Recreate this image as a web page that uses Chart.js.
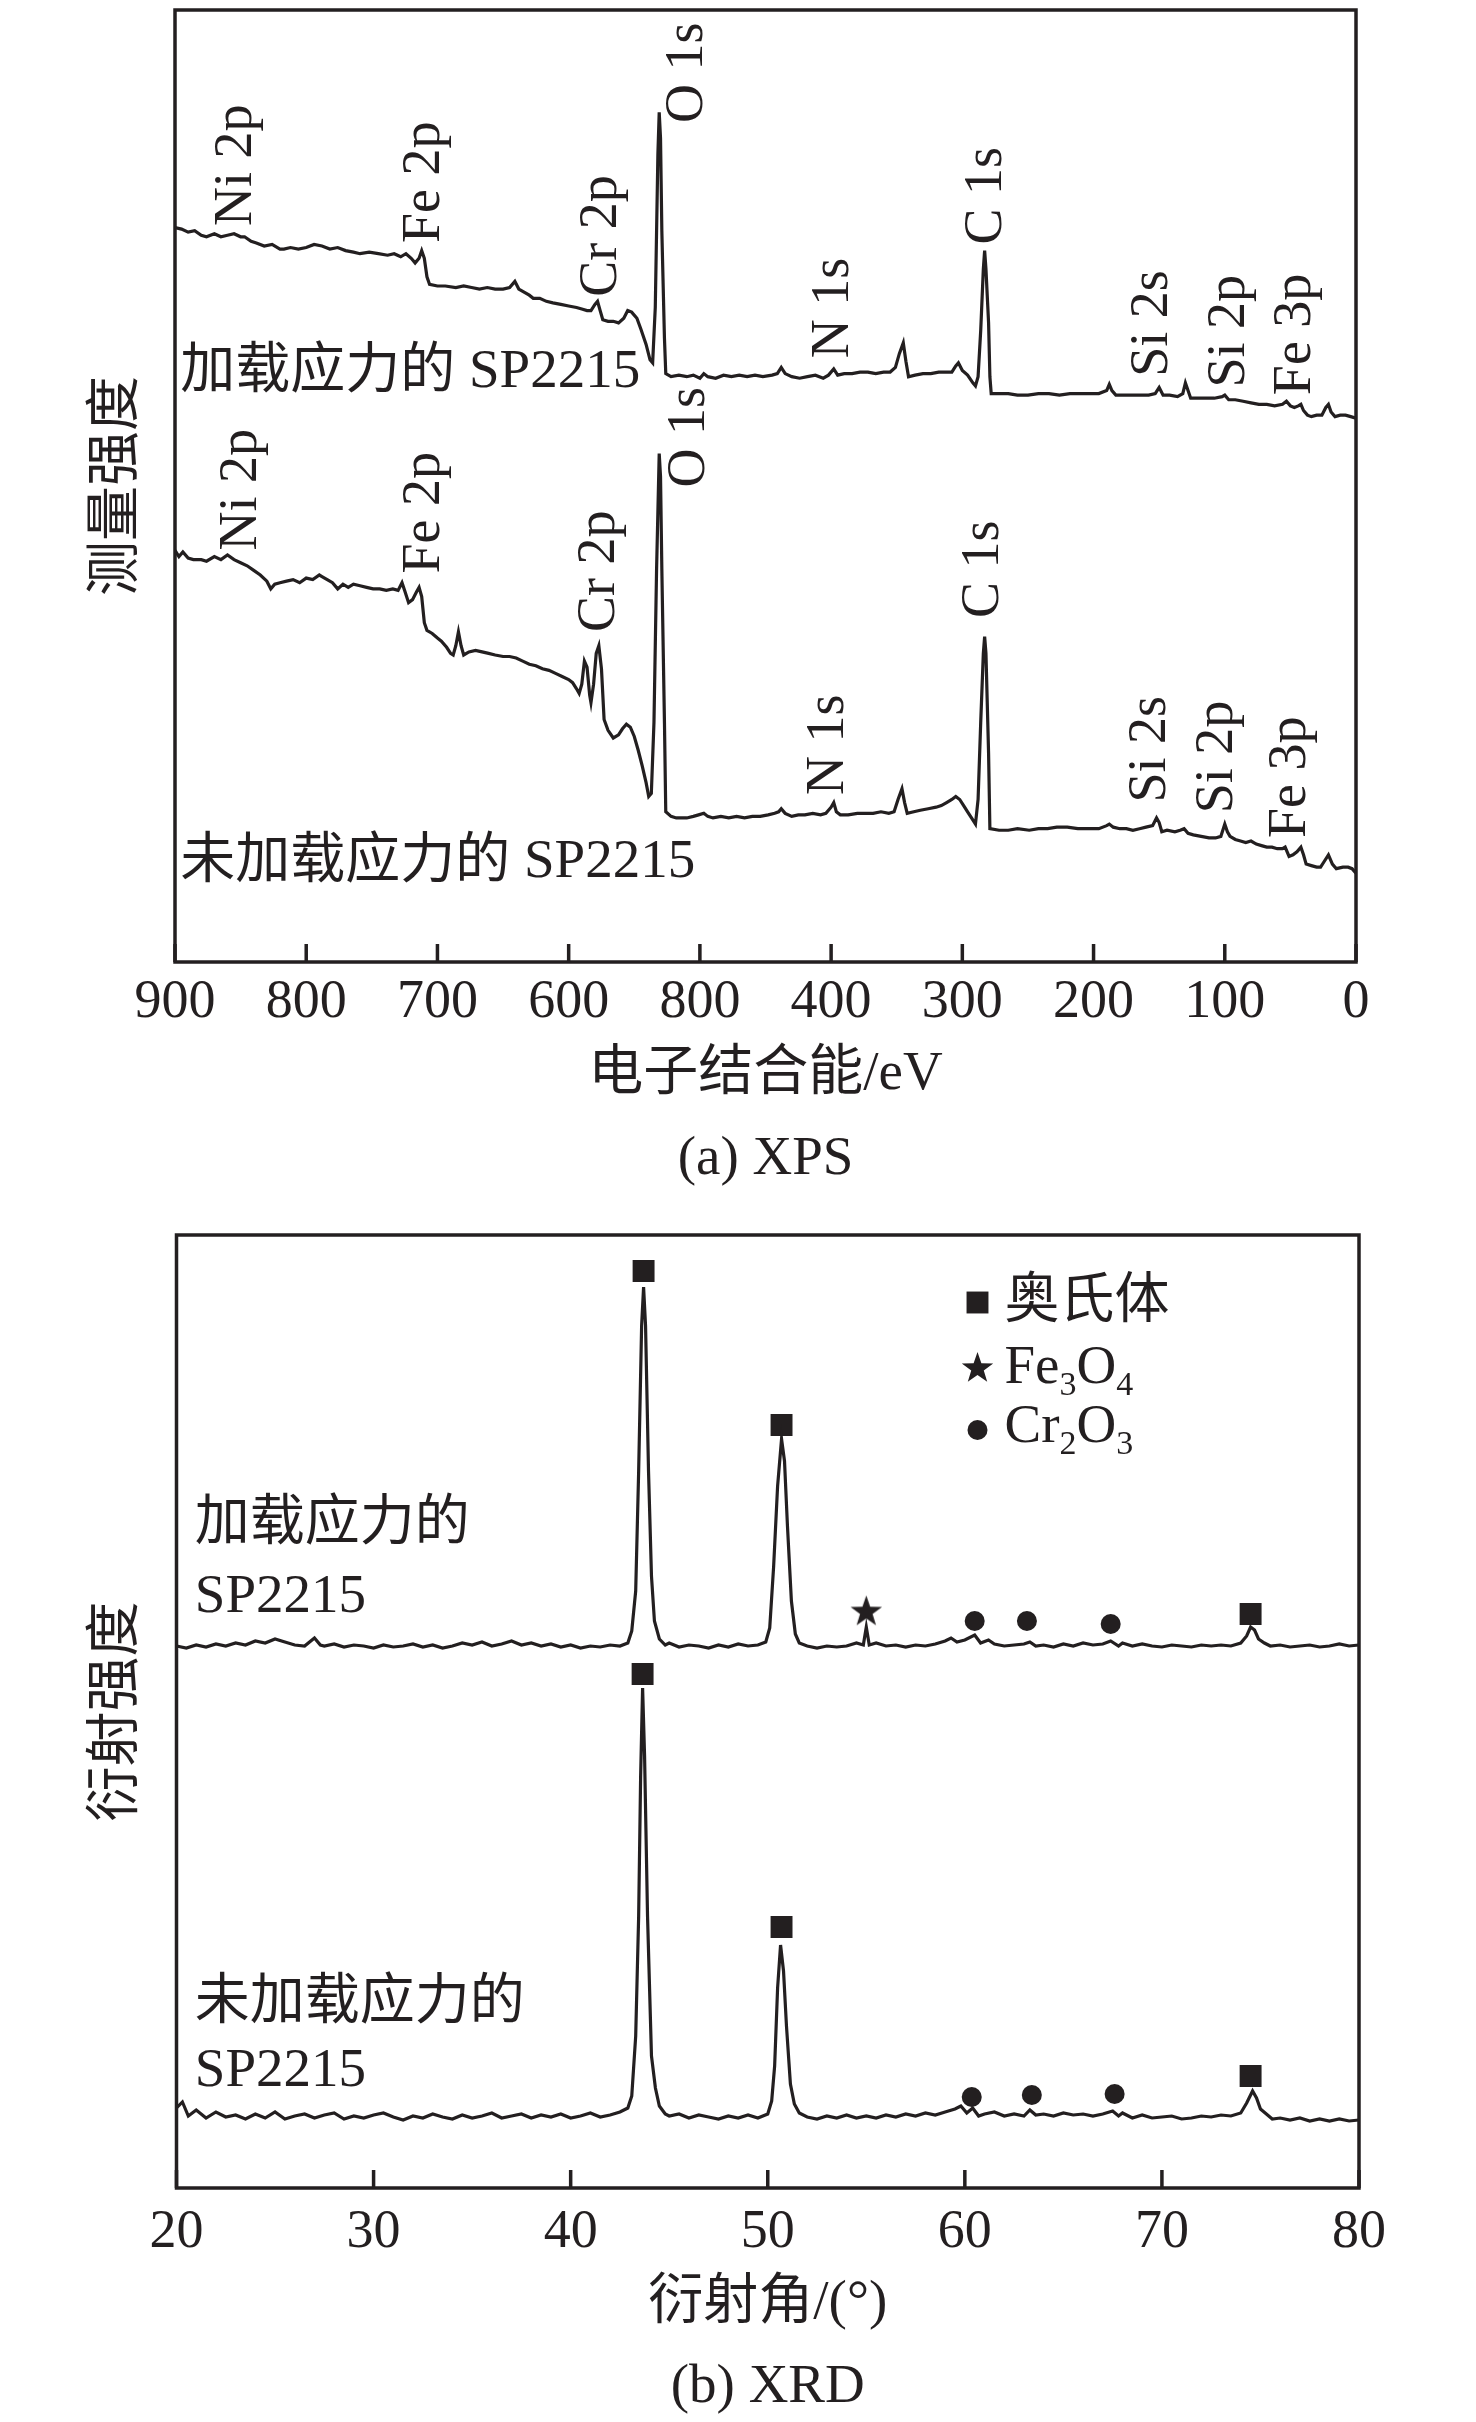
<!DOCTYPE html>
<html>
<head>
<meta charset="utf-8">
<script src="https://cdn.jsdelivr.net/npm/chart.js@4.4.1/dist/chart.umd.min.js"></script>
<style>
  html, body { margin: 0; padding: 0; background: #fff; }
  #xpsBox { position: absolute; left: 0; top: 0; width: 1476px; height: 1210px; }
  #xrdBox { position: absolute; left: 0; top: 1210px; width: 1476px; height: 1212px; }
</style>
</head>
<body>
<div id="xpsBox"><canvas id="xps"></canvas></div>
<div id="xrdBox"><canvas id="xrd"></canvas></div>
<script>
const INK = '#231f20';
const LATIN = "'Liberation Serif', 'Times New Roman', serif";
const MIXED = "'Liberation Serif', 'Noto Sans CJK SC', serif";

// ---- (a) XPS survey: [binding energy eV, intensity a.u.] ----
const xpsLoaded = [
  [900,472],[895,471],[890,469],[885,470],[880,467],[876,466],[870,468],[865,466],[860,467],[855,468],
  [850,466],[847,466],[842,463],[838,462],[832,460],[826,461],[820,458],[817,458],[812,459],[806,458],
  [800,459],[794,461],[788,460],[782,458],[776,459],[770,457],[764,456],[759,455],[752,456],[745,455],
  [738,454],[733,455],[728,453],[724,455],[720,452],[717,449],[714,452],[712,457],[710,452],[708,440],
  [706,435],[700,434],[694,434],[686,433],[680,434],[674,433],[668,432],[662,433],[656,432],[650,432],
  [645,433],[641,437],[638,432],[634,430],[630,428],[627,426],[622,426],[617,424],[612,423],[606,422],
  [600,421],[594,420],[590,419],[586,418],[583,418],[580,422],[578,424],[576,418],[574,412],[570,411],
  [566,411],[562,410],[558,413],[555,418],[552,417],[548,413],[545,406],[541,396],[538,386],[536,384],
  [534,420],[532,520],[531,547],[530,530],[529,470],[527,400],[526,377],[522,375],[516,376],[510,375],
  [505,376],[500,374],[497,377],[494,375],[488,374],[482,376],[476,375],[470,376],[464,375],[458,376],
  [452,375],[445,376],[441,377],[438,381],[435,377],[430,375],[424,374],[418,375],[412,376],[406,374],
  [402,376],[398,380],[395,376],[390,377],[384,377],[378,378],[372,378],[366,377],[360,378],[355,378],
  [351,381],[348,390],[345,397],[343,385],[341,375],[336,376],[330,377],[324,377],[318,378],[313,378],
  [308,378],[305,382],[303,384],[300,379],[296,376],[292,371],[290,369],[288,375],[286,405],[284,445],
  [283,457],[282,445],[280,410],[279,375],[278,364],[272,364],[265,364],[258,363],[250,363],[242,364],
  [234,364],[226,363],[218,364],[210,364],[202,364],[196,364],[190,366],[188,370],[186,366],[183,363],
  [176,363],[170,363],[164,363],[158,363],[153,364],[150,368],[147,363],[142,363],[136,362],[132,364],
  [130,371],[128,366],[126,361],[120,361],[114,361],[108,361],[102,362],[100,363],[97,360],[92,360],
  [86,359],[80,358],[74,357],[68,357],[62,356],[56,357],[53,359],[50,356],[47,355],[44,356],
  [42,357],[40,353],[37,350],[34,349],[30,350],[26,350],[23,355],[21,357],[19,352],[16,349],
  [12,350],[8,350],[4,349],[0,348]
];
const xpsUnloaded = [
  [900,262],[897,258],[894,261],[890,257],[886,256],[880,256],[876,255],[870,258],[865,256],[860,259],
  [855,256],[850,254],[845,252],[840,249],[835,246],[830,242],[827,237],[824,240],[820,241],[815,242],
  [810,243],[805,241],[800,244],[795,243],[790,246],[788,245],[784,243],[780,241],[776,237],[772,240],
  [768,238],[764,240],[759,239],[754,238],[749,237],[744,237],[739,236],[734,237],[730,236],[727,241],
  [725,236],[722,228],[719,230],[716,235],[714,238],[712,232],[710,215],[708,210],[704,208],[700,205],
  [697,203],[693,199],[690,195],[688,194],[686,200],[684,209],[682,200],[680,194],[676,196],[671,197],
  [666,196],[661,195],[656,194],[650,193],[645,193],[640,192],[635,190],[630,188],[625,187],[620,185],
  [615,184],[610,182],[605,180],[600,178],[597,176],[594,172],[592,169],[590,175],[588,190],[586,186],
  [584,168],[583,163],[581,175],[579,195],[577,200],[575,185],[573,152],[570,145],[566,140],[562,142],
  [559,146],[556,149],[553,147],[550,141],[547,132],[544,122],[541,111],[539,102],[537,104],[535,150],
  [533,250],[531,325],[530,310],[529,250],[527,150],[526,92],[522,89],[518,88],[514,88],[510,88],
  [505,89],[501,90],[497,91],[494,89],[490,88],[484,89],[478,88],[472,89],[466,88],[460,89],
  [454,89],[448,90],[443,91],[440,92],[438,94],[435,91],[430,89],[425,90],[420,90],[414,91],
  [408,90],[404,91],[400,95],[398,98],[396,92],[393,90],[387,90],[380,91],[374,91],[368,91],
  [362,92],[356,91],[352,92],[349,100],[346,107],[344,98],[342,91],[337,92],[332,93],[326,94],
  [320,95],[316,96],[312,98],[308,100],[305,102],[302,100],[299,96],[296,92],[293,88],[290,84],
  [288,100],[286,150],[284,195],[283,206],[282,195],[280,130],[279,81],[272,80],[265,80],[258,81],
  [249,80],[242,81],[235,81],[228,82],[220,82],[212,81],[204,81],[196,81],[190,83],[188,84],
  [185,82],[180,81],[175,81],[170,80],[165,81],[160,82],[155,83],[152,88],[150,85],[148,79],
  [144,80],[138,79],[134,80],[131,81],[128,78],[124,77],[118,76],[112,75],[107,75],[103,76],
  [100,84],[98,79],[96,76],[92,74],[88,73],[84,72],[80,73],[76,71],[72,70],[68,69],
  [64,69],[60,68],[56,68],[54,69],[51,63],[48,64],[45,66],[42,69],[40,64],[38,58],
  [34,57],[30,56],[27,56],[24,60],[21,64],[18,58],[15,55],[10,56],[6,56],[3,55],[0,52]
];
const xpsTickValues = [900, 800, 700, 600, 500, 400, 300, 200, 100, 0];
// printed as in the original figure (its 500 position reads "800")
const xpsTickLabels = ['900', '800', '700', '600', '800', '400', '300', '200', '100', '0'];
// peak names: [text, eV, intensity where the upright text starts]
const xpsPeakLabels = [
  ['Ni 2p', 853, 473], ['Fe 2p', 710, 462], ['Cr 2p', 575, 427], ['O 1s', 509, 540],
  ['N 1s', 398, 387], ['C 1s', 281, 461], ['Si 2s', 155, 375], ['Si 2p', 96, 368], ['Fe 3p', 46, 363],
  ['Ni 2p', 849, 262], ['Fe 2p', 710, 247], ['Cr 2p', 576, 209], ['O 1s', 508, 303],
  ['N 1s', 402, 103], ['C 1s', 284, 218], ['Si 2s', 156, 98], ['Si 2p', 105, 91], ['Fe 3p', 50, 75]
];
const xpsSampleLabels = [['加载应力的 SP2215', 896, 378], ['未加载应力的 SP2215', 896, 59]];

// ---- (b) XRD: [2theta deg, intensity a.u.] ----
const xrdLoaded = [
  [20,530],[20.5,528],[21,531],[21.5,529],[22,532],[22.5,530],[23,533],[23.5,531],[24,535],[24.5,533],
  [25,537],[25.5,534],[26,531],[26.5,530],[27,538],[27.3,531],[27.5,530],[28,532],[28.5,529],[29,531],
  [29.5,530],[30,528],[30.5,531],[31,529],[31.5,530],[32,532],[32.5,529],[33,531],[33.5,528],[34,530],
  [34.5,533],[35,531],[35.5,534],[36,530],[36.5,532],[37,535],[37.5,531],[38,533],[38.5,530],[39,532],
  [39.5,529],[40,531],[40.5,528],[41,530],[41.5,529],[42,531],[42.5,530],[42.9,533],[43.1,545],[43.3,585],
  [43.45,705],[43.6,850],[43.7,889],[43.8,850],[43.95,705],[44.1,600],[44.25,555],[44.5,537],[44.8,531],[45,533],
  [45.5,529],[46,531],[46.5,530],[47,528],[47.5,531],[48,529],[48.5,532],[49,530],[49.5,531],[49.9,534],
  [50.1,548],[50.3,610],[50.5,690],[50.7,737],[50.85,715],[51,650],[51.2,575],[51.4,542],[51.6,533],[52,530],
  [52.5,528],[53,530],[53.5,529],[54,530],[54.5,533],[54.85,531],[55,549],[55.15,531],[55.5,533],[56,530],
  [56.5,531],[57,529],[57.5,531],[58,530],[58.5,532],[59,535],[59.3,538],[59.6,534],[60,536],[60.5,541],
  [60.8,533],[61.2,536],[61.5,532],[62,530],[62.5,531],[63,532],[63.3,534],[63.6,530],[64,531],[64.5,529],
  [65,532],[65.5,530],[66,533],[66.5,531],[67,532],[67.4,535],[67.8,530],[68,533],[68.5,530],[69,532],
  [69.5,530],[70,529],[70.5,531],[71,530],[71.5,529],[72,531],[72.5,530],[73,531],[73.5,530],[74,533],
  [74.3,540],[74.5,549],[74.7,546],[74.9,537],[75.2,533],[75.5,530],[76,531],[76.5,529],[77,530],[77.5,531],
  [78,529],[78.5,530],[79,532],[79.5,530],[80,531]
];
const xrdUnloaded = [
  [20,68],[20.3,74],[20.6,60],[21,66],[21.5,58],[22,64],[22.5,59],[23,61],[23.5,57],[24,62],
  [24.5,58],[25,64],[25.5,57],[26,60],[26.5,62],[27,58],[27.5,61],[28,63],[28.5,57],[29,60],
  [29.5,58],[30,61],[30.5,63],[31,59],[31.5,56],[32,60],[32.5,58],[33,62],[33.5,59],[34,57],
  [34.5,61],[35,58],[35.5,60],[36,63],[36.5,58],[37,60],[37.5,62],[38,58],[38.5,61],[39,59],
  [39.5,62],[40,58],[40.5,60],[41,63],[41.5,59],[42,61],[42.5,64],[42.9,68],[43.1,80],[43.3,140],
  [43.45,260],[43.55,400],[43.65,488],[43.75,420],[43.9,260],[44.1,120],[44.3,88],[44.5,70],[44.8,62],[45,60],
  [45.5,62],[46,58],[46.5,61],[47,59],[47.5,57],[48,60],[48.5,58],[49,61],[49.5,58],[50,62],
  [50.2,75],[50.35,110],[50.5,188],[50.65,231],[50.8,205],[50.95,150],[51.15,92],[51.35,72],[51.6,63],[52,59],
  [52.5,57],[53,60],[53.5,58],[54,61],[54.5,58],[55,60],[55.5,58],[56,61],[56.5,59],[57,62],
  [57.5,60],[58,63],[58.5,61],[59,64],[59.5,67],[59.8,70],[60.1,63],[60.4,68],[60.7,60],[61,62],
  [61.5,64],[62,60],[62.5,62],[63,60],[63.3,66],[63.6,61],[64,62],[64.5,60],[65,63],[65.5,61],
  [66,62],[66.5,60],[67,62],[67.5,65],[67.8,60],[68,63],[68.5,58],[69,61],[69.5,58],[70,59],
  [70.5,60],[71,57],[71.5,58],[72,60],[72.5,59],[73,61],[73.5,60],[74,63],[74.3,73],[74.6,85],
  [74.8,78],[75,67],[75.3,62],[75.6,57],[76,58],[76.5,56],[77,58],[77.5,55],[78,57],[78.5,55],
  [79,57],[79.5,55],[80,56]
];
const xrdTickValues = [20, 30, 40, 50, 60, 70, 80];
const xrdTickLabels = ['20', '30', '40', '50', '60', '70', '80'];
// phase marks above the peaks
const austenitePeaks = [[43.7,905],[50.7,751],[74.5,562],[43.65,502],[50.7,249],[74.5,100]];
const fe3o4Peaks = [[55.0,565]];
const cr2o3Peaks = [[60.5,555],[63.15,555],[67.4,552],[60.35,79],[63.4,81],[67.6,82]];
const phaseNames = ['奥氏体', 'Fe3O4', 'Cr2O3'];
const xrdSampleLabels = [
  ['加载应力的', 20.93, 651], ['SP2215', 20.93, 578],
  ['未加载应力的', 20.93, 172], ['SP2215', 20.93, 104]
];

function toXY(rows) { return rows.map(([x, y]) => ({x, y})); }

function makeStar(size) {
  const c = document.createElement('canvas');
  c.width = c.height = size;
  const g = c.getContext('2d');
  g.fillStyle = INK;
  g.beginPath();
  for (let i = 0; i < 10; i++) {
    const r = i % 2 ? size * 0.2 : size * 0.5;
    const a = -Math.PI / 2 + i * Math.PI / 5;
    g.lineTo(size / 2 + r * Math.cos(a), size / 2 + 1 + r * Math.sin(a));
  }
  g.closePath();
  g.fill();
  return c;
}
const starIcon = makeStar(33);

// box around the plot + inward ticks on the bottom axis
const frame = {
  id: 'frame',
  afterDraw(chart) {
    const {ctx, chartArea: a, scales: {x}} = chart;
    ctx.save();
    ctx.strokeStyle = INK;
    ctx.lineWidth = 3.5;
    ctx.strokeRect(a.left, a.top, a.right - a.left, a.bottom - a.top);
    ctx.beginPath();
    x.ticks.forEach(t => {
      const px = x.getPixelForValue(t.value);
      ctx.moveTo(px, a.bottom);
      ctx.lineTo(px, a.bottom - 18);
    });
    ctx.stroke();
    ctx.restore();
  }
};

// text written inside the plot: upright peak names and sample names
const notes = {
  id: 'notes',
  afterDatasetsDraw(chart, args, opts) {
    const {ctx, scales: {x, y}} = chart;
    ctx.save();
    ctx.fillStyle = INK;
    ctx.textAlign = 'left';
    ctx.textBaseline = 'middle';
    (opts.upright || []).forEach(([text, xv, yv]) => {
      ctx.save();
      ctx.translate(x.getPixelForValue(xv), y.getPixelForValue(yv));
      ctx.rotate(-Math.PI / 2);
      ctx.font = '54px ' + LATIN;
      ctx.fillText(text, 0, 0);
      ctx.restore();
    });
    ctx.font = '55px ' + MIXED;
    (opts.flat || []).forEach(([text, xv, yv]) => {
      ctx.fillText(text, x.getPixelForValue(xv), y.getPixelForValue(yv));
    });
    ctx.restore();
  }
};

// key of the XRD phase marks, chemical digits as subscripts
const phaseKey = {
  id: 'phaseKey',
  afterDraw(chart, args, opts) {
    if (!opts.names) return;
    const {ctx, chartArea: a} = chart;
    const marks = [
      {pointStyle: 'rect', radius: 15.5, cy: 67.5, base: 82},
      {pointStyle: starIcon, radius: 16, cy: 132.5, base: 148},
      {pointStyle: 'circle', radius: 10, cy: 195, base: 206.7}
    ];
    ctx.save();
    ctx.fillStyle = INK;
    ctx.textBaseline = 'alphabetic';
    ctx.textAlign = 'left';
    opts.names.forEach((name, i) => {
      const m = marks[i];
      Chart.helpers.drawPoint(ctx, {pointStyle: m.pointStyle, radius: m.radius, rotation: 0, borderWidth: 0},
        a.left + 801, a.top + m.cy);
      let px = a.left + 828;
      const py = a.top + m.base;
      for (const ch of name) {
        const sub = /[0-9]/.test(ch);
        ctx.font = (sub ? '34px ' : '55px ') + MIXED;
        ctx.fillText(ch, px, sub ? py + 12 : py);
        px += ctx.measureText(ch).width;
      }
    });
    ctx.restore();
  }
};

function baseOptions(o) {
  return {
    responsive: true,
    maintainAspectRatio: false,
    animation: false,
    layout: {padding: o.padding},
    scales: {
      x: {
        type: 'linear', min: o.xMin, max: o.xMax, reverse: !!o.reverse,
        afterBuildTicks: s => { s.ticks = o.ticks.map(v => ({value: v})); },
        afterFit: s => { s.height = o.xHeight; },
        grid: {display: false, drawTicks: false},
        border: {display: false},
        ticks: {
          color: INK, padding: o.tickPad, autoSkip: false, maxRotation: 0,
          font: {family: LATIN, size: 54, lineHeight: 1},
          callback: v => o.tickLabels[o.ticks.indexOf(v)]
        },
        title: {
          display: true, text: o.xTitle, color: INK,
          font: {family: MIXED, size: 55, lineHeight: 1},
          padding: {top: 0, bottom: o.xTitlePad}
        }
      },
      y: {
        type: 'linear', min: o.yMin, max: o.yMax,
        afterFit: s => { s.width = o.yWidth; },
        grid: {display: false, drawTicks: false},
        border: {display: false},
        ticks: {display: false},
        title: {
          display: true, text: o.yTitle, color: INK,
          font: {family: MIXED, size: 55, lineHeight: 1},
          padding: {top: 90.5, bottom: 0}
        }
      }
    },
    plugins: {
      legend: {display: false},
      tooltip: {enabled: false},
      title: {
        display: true, position: 'bottom', fullSize: false, text: o.caption, color: INK,
        font: {family: LATIN, size: 55, weight: 'normal', lineHeight: 1},
        padding: {top: 10, bottom: o.captionPad}
      },
      notes: {upright: o.upright || [], flat: o.flat || []},
      phaseKey: {names: o.names}
    }
  };
}

function spectrum(rows) {
  return {
    data: toXY(rows), showLine: true, borderColor: INK, borderWidth: 3.2,
    pointRadius: 0, tension: 0, fill: false
  };
}

function marks(rows, style, r) {
  return {
    data: toXY(rows), showLine: false, pointStyle: style, pointRadius: r,
    pointBackgroundColor: INK, pointBorderWidth: 0, pointHoverRadius: r
  };
}

new Chart(document.getElementById('xps'), {
  type: 'scatter',
  data: {datasets: [spectrum(xpsLoaded), spectrum(xpsUnloaded)]},
  options: baseOptions({
    padding: {top: 10, right: 120, left: 0, bottom: 0},
    xMin: 0, xMax: 900, reverse: true, ticks: xpsTickValues, tickLabels: xpsTickLabels,
    xHeight: 160.5, tickPad: 14, xTitle: '电子结合能/eV', xTitlePad: 20,
    yMin: -5.7, yMax: 613.5, yWidth: 175, yTitle: '测量强度',
    caption: '(a) XPS', captionPad: 22.5,
    upright: xpsPeakLabels, flat: xpsSampleLabels
  }),
  plugins: [frame, notes, phaseKey]
});

new Chart(document.getElementById('xrd'), {
  type: 'scatter',
  data: {datasets: [
    spectrum(xrdLoaded), spectrum(xrdUnloaded),
    marks(austenitePeaks, 'rect', 15.5), marks(fe3o4Peaks, starIcon, 16), marks(cr2o3Peaks, 'circle', 10)
  ]},
  options: baseOptions({
    padding: {top: 25, right: 117, left: 0, bottom: 0},
    xMin: 20, xMax: 80, ticks: xrdTickValues, tickLabels: xrdTickLabels,
    xHeight: 162.5, tickPad: 18, xTitle: '衍射角/(°)', xTitlePad: 19,
    yMin: -12, yMax: 941, yWidth: 176.5, yTitle: '衍射强度',
    caption: '(b) XRD', captionPad: 6.5,
    flat: xrdSampleLabels, names: phaseNames
  }),
  plugins: [frame, notes, phaseKey]
});
</script>
</body>
</html>
